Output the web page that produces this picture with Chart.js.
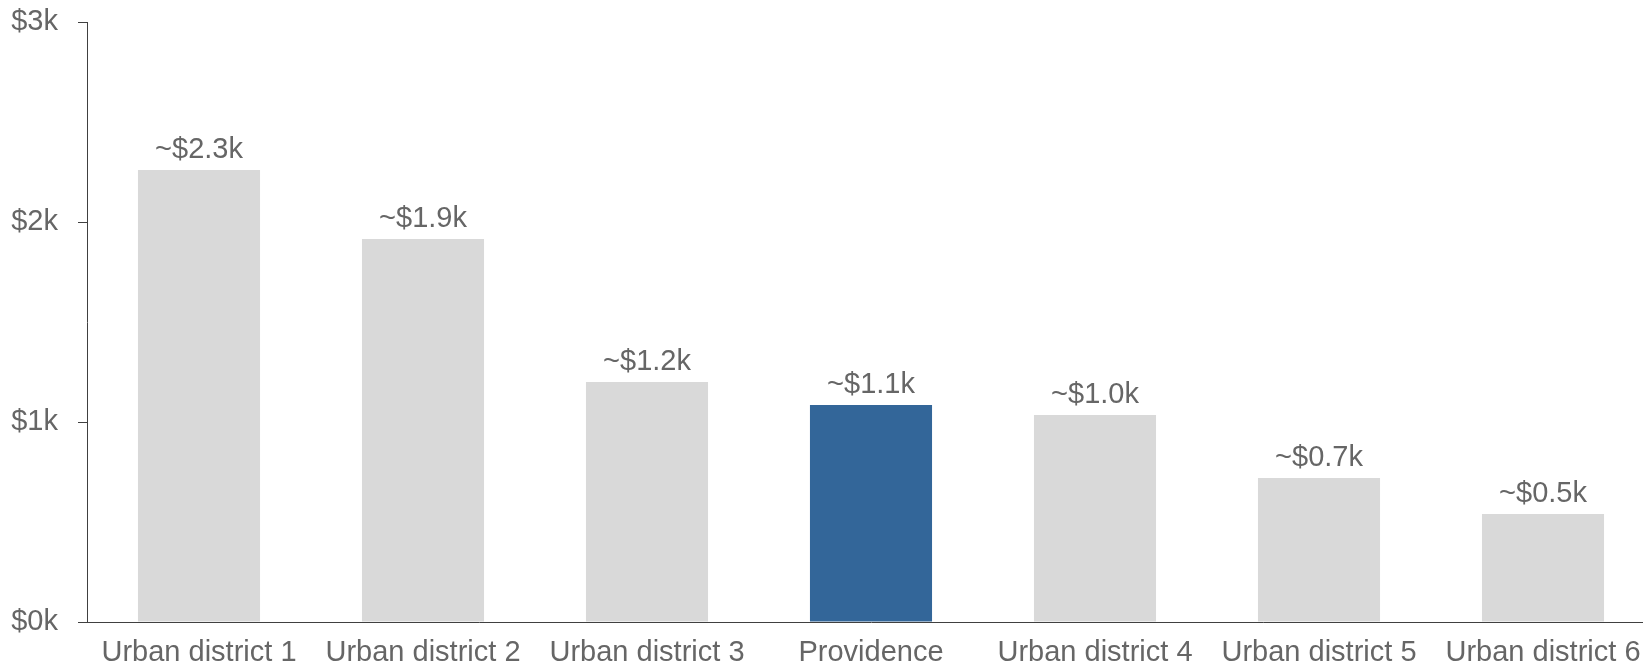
<!DOCTYPE html>
<html>
<head>
<meta charset="utf-8">
<script src="https://cdn.jsdelivr.net/npm/chart.js@4/dist/chart.umd.min.js"></script>
<style>
html,body{margin:0;padding:0;background:#fff;overflow:hidden;}
canvas{display:block;}
</style>
</head>
<body>
<canvas id="c" width="1655" height="663"></canvas>
<script>
const categories = ["Urban district 1","Urban district 2","Urban district 3","Providence","Urban district 4","Urban district 5","Urban district 6"];
const values = [2.26, 1.915, 1.2, 1.085, 1.035, 0.72, 0.54];
const valueLabels = ["~$2.3k","~$1.9k","~$1.2k","~$1.1k","~$1.0k","~$0.7k","~$0.5k"];
const highlight = "Providence";
const yTicks = [0, 1, 2, 3];

const FONT = "'Liberation Sans', Arial, Helvetica, sans-serif";
const TEXT = "#666666";
const AXIS = "#404040";
const FS = 29;

const labelPlugin = {
  id: 'valueLabels',
  afterDatasetsDraw(chart) {
    const ctx = chart.ctx;
    const meta = chart.getDatasetMeta(0);
    ctx.save();
    ctx.font = FS + "px " + FONT;
    ctx.fillStyle = TEXT;
    ctx.textAlign = 'center';
    ctx.textBaseline = 'alphabetic';
    meta.data.forEach((bar, i) => {
      ctx.fillText(valueLabels[i], bar.x, bar.y - 12);
    });
    ctx.restore();
  }
};

new Chart(document.getElementById('c'), {
  type: 'bar',
  data: {
    labels: categories,
    datasets: [{
      data: values,
      backgroundColor: categories.map(c => c === highlight ? '#336699' : '#D9D9D9'),
      borderWidth: 0,
      categoryPercentage: 1,
      barPercentage: 0.545
    }]
  },
  options: {
    responsive: false,
    animation: false,
    layout: { padding: 0 },
    plugins: { legend: { display: false }, tooltip: { enabled: false } },
    scales: {
      x: {
        afterFit(scale) { scale.height = 41; },
        grid: { display: false, drawTicks: false },
        border: { display: true, color: AXIS, width: 1 },
        ticks: {
          color: TEXT, font: { family: FONT, size: FS },
          padding: 14, maxRotation: 0, autoSkip: false
        }
      },
      y: {
        min: 0, max: 3,
        afterFit(scale) { scale.width = 87; scale.paddingTop = 22; scale.paddingBottom = 0; },
        afterBuildTicks(scale) { scale.ticks = yTicks.map(v => ({ value: v })); },
        grid: { display: true, drawOnChartArea: false, drawTicks: true, tickLength: 9, color: AXIS },
        border: { display: true, color: AXIS, width: 1 },
        ticks: {
          color: TEXT, font: { family: FONT, size: FS }, padding: 20,
          callback: v => '$' + v + 'k'
        }
      }
    }
  },
  plugins: [labelPlugin]
});
</script>
</body>
</html>
